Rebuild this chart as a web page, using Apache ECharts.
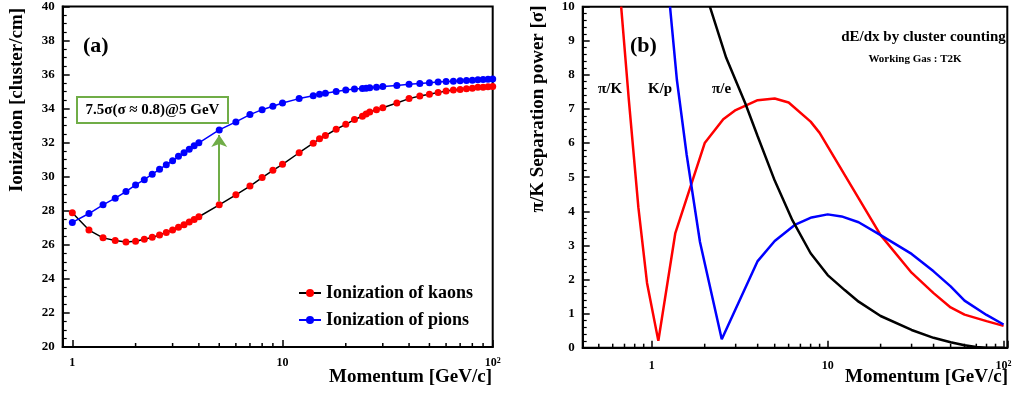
<!DOCTYPE html>
<html><head><meta charset="utf-8">
<script src="https://cdn.jsdelivr.net/npm/echarts@6/dist/echarts.min.js"></script>
<style>html,body{margin:0;padding:0;background:#fff}#c{width:1016px;height:394px}</style>
</head><body><div id="c"></div>
<script>
// ---------- Panel (a): ionization vs momentum ----------
const momentumA = [1,1.2,1.4,1.6,1.8,2,2.2,2.4,2.6,2.8,3,3.2,3.4,3.6,3.8,4,5,6,7,8,9,10,12,14,15,16,18,20,22,24,25,26,28,30,35,40,45,50,55,60,65,70,75,80,85,90,95,100];
const kaonIon = [27.89,26.87,26.41,26.25,26.17,26.21,26.33,26.44,26.58,26.73,26.87,27.03,27.18,27.34,27.49,27.65,28.35,28.94,29.45,29.95,30.38,30.73,31.41,31.97,32.23,32.42,32.79,33.08,33.36,33.55,33.69,33.80,33.94,34.05,34.33,34.59,34.74,34.85,34.95,35.03,35.09,35.13,35.17,35.20,35.25,35.26,35.29,35.30];
const pionIon = [27.32,27.84,28.35,28.74,29.13,29.52,29.83,30.15,30.44,30.71,30.94,31.20,31.41,31.62,31.82,31.99,32.75,33.22,33.65,33.94,34.14,34.33,34.59,34.76,34.85,34.91,35.01,35.09,35.15,35.19,35.20,35.23,35.26,35.30,35.36,35.44,35.48,35.52,35.56,35.60,35.61,35.64,35.65,35.67,35.70,35.71,35.73,35.74];
const arrowMomentum = 5;
const minorTicksA = [2,3,4,5,6,7,8,9,20,30,40,50,60,70,80,90];

// ---------- Panel (b): separation power ----------
const momentumPiK = [0.67,0.74,0.84,0.94,1.09,1.36,2,2.55,3,4,5,6,8,9,20,30,40,50,60,80,100];
const sepPiK      = [10.0,7.3,4.1,1.9,0.2,3.35,6.0,6.7,6.97,7.26,7.31,7.19,6.63,6.3,3.3,2.2,1.6,1.18,0.97,0.78,0.64];
const momentumKp  = [1.27,1.39,1.58,1.88,2.5,4,5,6.5,8.1,10,12,15,20,30,40,50,60,80,100];
const sepKp       = [10,7.85,5.65,3.1,0.25,2.54,3.13,3.6,3.82,3.91,3.85,3.68,3.30,2.75,2.24,1.80,1.38,0.96,0.68];
const momentumPiE = [2.14,2.65,3.4,4,5,6.3,8,10,12.5,15,20,30,40,50,60,70,80,100];
const sepPiE      = [10,8.5,7.17,6.2,4.9,3.74,2.77,2.13,1.69,1.35,0.93,0.52,0.29,0.16,0.07,0.02,0,0];
const minorTicksB = [0.5,0.6,0.7,0.8,0.9,2,3,4,5,6,7,8,9,20,30,40,50,60,70,80,90];

const serif = '"Liberation Serif","DejaVu Serif",serif';
const zip = (xs, ys) => xs.map((x, i) => [x, ys[i]]);
const iArrow = momentumA.indexOf(arrowMomentum);

function logLabel(v) {
  const l = Math.log10(v), r = Math.round(l);
  if (Math.abs(l - r) > 1e-6) return '';
  if (r === 0) return '1';
  if (r === 1) return '10';
  return '10{s|' + r + '}';
}
function xAxisCfg(gi, min, max, margin) {
  return {
    type: 'log', logBase: 10, gridIndex: gi, min: min, max: max, splitNumber: 2,
    axisLine: {show: true, onZero: false, lineStyle: {color: '#000', width: 2}},
    axisTick: {show: true, inside: true, length: 7, lineStyle: {color: '#000', width: 1.5}},
    minorTick: {show: false}, splitLine: {show: false},
    axisLabel: {formatter: logLabel, fontFamily: serif, fontWeight: 'bold', fontSize: 12, color: '#000', margin: margin,
      rich: {s: {fontFamily: serif, fontWeight: 'bold', fontSize: 8, color: '#000', verticalAlign: 'top'}}}
  };
}
function yAxisCfg(gi, min, max, interval, minorSplit) {
  return {
    type: 'value', gridIndex: gi, min: min, max: max, interval: interval,
    axisLine: {show: true, onZero: false, lineStyle: {color: '#000', width: 2}},
    axisTick: {show: true, inside: true, length: 7, lineStyle: {color: '#000', width: 1.5}},
    minorTick: {show: true, splitNumber: minorSplit, length: 4, lineStyle: {color: '#000', width: 1.2}},
    splitLine: {show: false},
    axisLabel: {fontFamily: serif, fontWeight: 'bold', fontSize: 13, color: '#000', margin: 8}
  };
}
function minorTickSeries(idx, vals, ymin) {
  return {
    type: 'custom', xAxisIndex: idx, yAxisIndex: idx, silent: true, clip: false, z: 5,
    data: vals.map(v => [v, ymin]),
    renderItem: (params, api) => {
      const p = api.coord([api.value(0), api.value(1)]);
      return {type: 'line', shape: {x1: p[0], y1: p[1], x2: p[0], y2: p[1] - 4}, style: {stroke: '#000', lineWidth: 1.5}};
    }
  };
}
const txt = (o) => Object.assign({fill: '#000', fontFamily: serif, fontWeight: 'bold'}, o);

const chart = echarts.init(document.getElementById('c'), null, {renderer: 'canvas'});
chart.setOption({
  animation: false,
  backgroundColor: '#fff',
  grid: [
    {left: 62.7, top: 4.6, right: 523.3, bottom: 47, show: true, borderColor: '#000', borderWidth: 2},
    {left: 582.7, top: 6.7, right: 8.7, bottom: 46.3, show: true, borderColor: '#000', borderWidth: 2}
  ],
  xAxis: [xAxisCfg(0, 0.9, 100, 10), xAxisCfg(1, 0.405, 105, 12)],
  yAxis: [yAxisCfg(0, 20, 40, 2, 4), yAxisCfg(1, 0, 10, 1, 5)],
  legend: {
    data: ['Ionization of kaons', 'Ionization of pions'], orient: 'vertical', left: 298, top: 284,
    itemWidth: 22, itemHeight: 10, itemGap: 9, padding: 0, selectedMode: false,
    textStyle: {fontFamily: serif, fontWeight: 'bold', fontSize: 18, color: '#000'}
  },
  series: [
    {
      name: 'Ionization of kaons', type: 'line', xAxisIndex: 0, yAxisIndex: 0,
      data: zip(momentumA, kaonIon), symbol: 'circle', symbolSize: 7,
      lineStyle: {color: '#000', width: 1.5}, itemStyle: {color: '#ff0000'}, z: 3
    },
    {
      name: 'Ionization of pions', type: 'line', xAxisIndex: 0, yAxisIndex: 0,
      data: zip(momentumA, pionIon), symbol: 'circle', symbolSize: 7,
      lineStyle: {color: '#0000ff', width: 1.5}, itemStyle: {color: '#0000ff'}, z: 3,
      markLine: {
        silent: true, symbol: ['none', 'arrow'], symbolSize: 12, label: {show: false},
        itemStyle: {color: '#70ad47'},
        lineStyle: {color: '#70ad47', width: 2, type: 'solid'},
        data: [[{coord: [arrowMomentum, kaonIon[iArrow] + 0.2]}, {coord: [arrowMomentum, pionIon[iArrow] - 0.3]}]]
      }
    },
    {name: 'pi/K', type: 'line', xAxisIndex: 1, yAxisIndex: 1, data: zip(momentumPiK, sepPiK), showSymbol: false, lineStyle: {color: '#ff0000', width: 2.5}},
    {name: 'K/p', type: 'line', xAxisIndex: 1, yAxisIndex: 1, data: zip(momentumKp, sepKp), showSymbol: false, lineStyle: {color: '#0000ff', width: 2.5}},
    {name: 'pi/e', type: 'line', xAxisIndex: 1, yAxisIndex: 1, data: zip(momentumPiE, sepPiE), showSymbol: false, lineStyle: {color: '#000', width: 2.5}},
    minorTickSeries(0, minorTicksA, 20),
    minorTickSeries(1, minorTicksB, 0)
  ],
  graphic: [
    {type: 'text', x: 17, y: 100, rotation: Math.PI / 2, style: txt({text: 'Ionization [cluster/cm]', fontSize: 19, textAlign: 'center', textVerticalAlign: 'middle'})},
    {type: 'text', x: 492, y: 377, style: txt({text: 'Momentum [GeV/c]', fontSize: 19, textAlign: 'right', textVerticalAlign: 'middle'})},
    {type: 'text', x: 83, y: 46, style: txt({text: '(a)', fontSize: 22, textAlign: 'left', textVerticalAlign: 'middle'})},
    {type: 'rect', shape: {x: 77, y: 97, width: 151, height: 26}, style: {fill: '#fff', stroke: '#70ad47', lineWidth: 2}, z: 10},
    {type: 'text', x: 152.5, y: 110.5, z: 11, style: txt({text: '7.5σ(σ ≈ 0.8)@5 GeV', fontSize: 15, textAlign: 'center', textVerticalAlign: 'middle'})},
    {type: 'text', x: 538, y: 109, rotation: Math.PI / 2, style: txt({text: 'π/K Separation power [σ]', fontSize: 19, textAlign: 'center', textVerticalAlign: 'middle'})},
    {type: 'text', x: 1008, y: 377, style: txt({text: 'Momentum [GeV/c]', fontSize: 19, textAlign: 'right', textVerticalAlign: 'middle'})},
    {type: 'text', x: 630, y: 46, style: txt({text: '(b)', fontSize: 22, textAlign: 'left', textVerticalAlign: 'middle'})},
    {type: 'text', x: 598, y: 89, style: txt({text: 'π/K', fontSize: 15, textAlign: 'left', textVerticalAlign: 'middle'})},
    {type: 'text', x: 648, y: 89, style: txt({text: 'K/p', fontSize: 15, textAlign: 'left', textVerticalAlign: 'middle'})},
    {type: 'text', x: 712, y: 89, style: txt({text: 'π/e', fontSize: 15, textAlign: 'left', textVerticalAlign: 'middle'})},
    {type: 'text', x: 923.5, y: 37, style: txt({text: 'dE/dx by cluster counting', fontSize: 15, textAlign: 'center', textVerticalAlign: 'middle'})},
    {type: 'text', x: 915, y: 59, style: txt({text: 'Working Gas : T2K', fontSize: 11, textAlign: 'center', textVerticalAlign: 'middle'})}
  ]
});
</script>
</body></html>
